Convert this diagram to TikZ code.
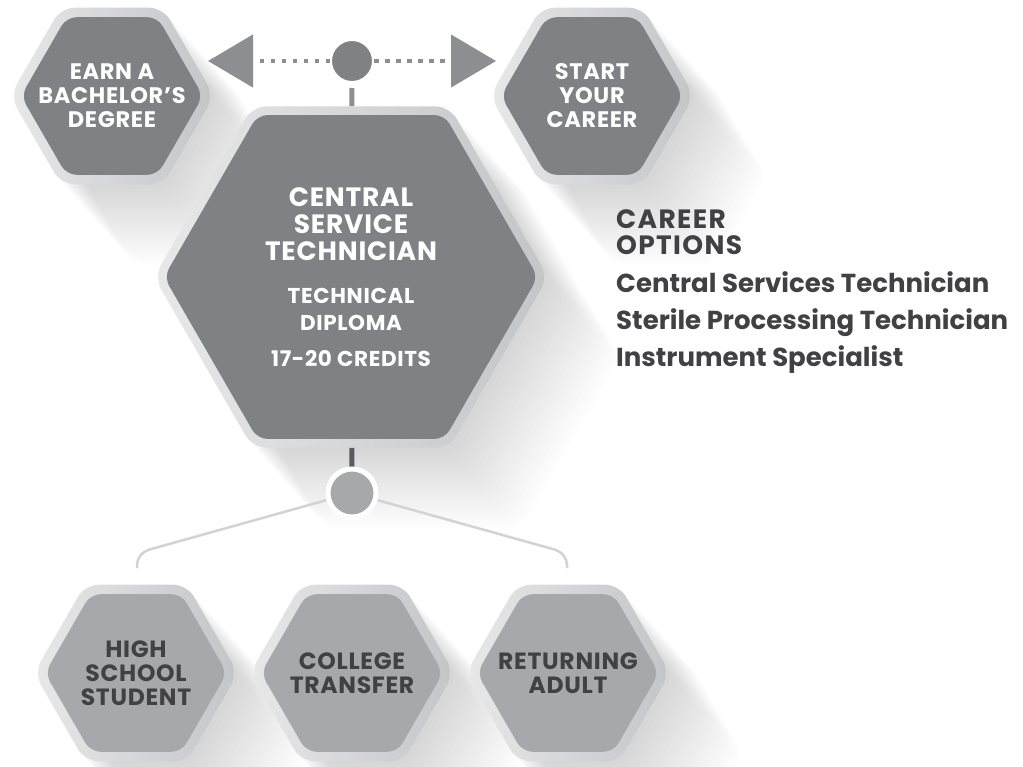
\documentclass[tikz,border=0pt]{standalone}
\usepackage{fontspec}
\setmainfont{Poppins}
\newfontfamily\capfont{Poppins}[LetterSpace=3]
\newfontfamily\headfont{Poppins}[LetterSpace=5]
\usetikzlibrary{shapes.geometric,arrows.meta}

\definecolor{hexdark}{HTML}{808185}
\definecolor{hexlight}{HTML}{A7A8AC}
\definecolor{shellL}{HTML}{E8E8E9}
\definecolor{shellR}{HTML}{C4C5C7}
\definecolor{inkdark}{HTML}{414042}
\definecolor{pointer}{HTML}{8D8E92}
\definecolor{branchline}{HTML}{D2D3D4}
\definecolor{stemdark}{HTML}{5A5B5E}

% soft long shadow behind a hexagon: center x, center y, radius
\newcommand\hexshadow[3]{%
  \foreach \k in {1,...,20}
    \fill[black, opacity=.008, rounded corners=12pt, shift={(#1+3.6*\k,#2+4*\k)}]
      (0:#3) -- (60:#3) -- (120:#3) -- (180:#3) -- (240:#3) -- (300:#3) -- cycle;
}

\tikzset{
  hexshell/.style={regular polygon, regular polygon sides=6, minimum size=#1,
    inner sep=0pt, rounded corners=14pt, left color=shellL, right color=shellR},
  hexcore/.style={regular polygon, regular polygon sides=6, minimum size=#1,
    inner sep=-30pt, rounded corners=10pt, align=center,
    font=\capfont\bfseries\fontsize{22.5}{24}\selectfont},
  darkhex/.style={hexcore=#1, fill=hexdark, text=white},
  lighthex/.style={hexcore=#1, fill=hexlight, text=inkdark,
    font=\capfont\bfseries\fontsize{23.5}{24}\selectfont},
  option/.style={anchor=base west, inner sep=0pt, text=inkdark,
    font=\bfseries\fontsize{26}{28}\selectfont},
  heading/.style={option, font=\headfont\bfseries\fontsize{26.5}{28}\selectfont},
  dotline/.style={pointer, line width=4.5pt, dash pattern=on 4.5pt off 6.5pt,
    -{Triangle[length=45pt,width=52pt]}},
  branch/.style={branchline, line width=2.5pt, rounded corners=12pt},
}

\begin{document}
\begin{tikzpicture}[x=1pt, y=-1pt]
  \useasboundingbox[fill=white] (0,0) rectangle (1023,766);

  % shadows
  \hexshadow{112}{96}{102}
  \hexshadow{592}{96}{102}
  \hexshadow{351}{277}{197}
  \hexshadow{136}{673}{102}
  \hexshadow{352}{673}{102}
  \hexshadow{568}{673}{102}

  % top row
  \node[hexshell=204] (earnShell) at (112,96) {};
  \node[darkhex=182] (earn) at (112,96) {EARN A\\BACHELOR’S\\DEGREE};
  \node[hexshell=204] (startShell) at (592,96) {};
  \node[darkhex=182] (start) at (592,96) {START\\YOUR\\CAREER};

  % program
  \node[hexshell=394] (cstShell) at (351,277) {};
  \node[darkhex=374, font=\capfont\bfseries\fontsize{26.5}{27}\selectfont] (cst) at (351,277)
    {CENTRAL\\SERVICE\\TECHNICIAN\\[16pt]
     {\fontsize{21.5}{27}\selectfont TECHNICAL}\\
     {\fontsize{21.5}{27}\selectfont DIPLOMA}\\[9pt]
     {\fontsize{21.5}{27}\selectfont 17-20 CREDITS}};

  % entry points
  \node[hexshell=204] (hsShell) at (136,673) {};
  \node[lighthex=182] (hs) at (136,673) {HIGH\\SCHOOL\\STUDENT};
  \node[hexshell=204] (ctShell) at (352,673) {};
  \node[lighthex=182] (ct) at (352,673) {COLLEGE\\TRANSFER};
  \node[hexshell=204] (raShell) at (568,673) {};
  \node[lighthex=182] (ra) at (568,673) {RETURNING\\ADULT};

  % junctions
  \node[circle, fill=hexdark, draw=white, line width=2pt, minimum size=42pt,
    inner sep=0pt] (topdot) at (352,61) {};
  \coordinate (earnTip) at (208,61);
  \coordinate (startTip) at (496,61);
  \draw[dotline] (topdot) -- (earnTip);
  \draw[dotline] (topdot) -- (startTip);
  \draw[pointer, line width=5pt, shorten <=5pt] (topdot) -- (cstShell);

  \coordinate (hsBend) at (137,553);
  \coordinate (hsEnd) at (137,568);
  \coordinate (raBend) at (567,553);
  \coordinate (raEnd) at (567,568);
  \draw[branch] (352,493) -- (hsBend) -- (hsEnd);
  \draw[branch] (352,493) -- (raBend) -- (raEnd);
  \draw[stemdark, line width=5pt] (cstShell) -- (352,493);
  \node[circle, fill=hexlight, draw=white, line width=5pt, minimum size=48pt,
    inner sep=0pt] (botdot) at (352,493) {};

  % career options
  \node[heading] (capA) at (616,228) {CAREER};
  \node[heading] (capB) at (616,254) {OPTIONS};
  \node[option] (opt1) at (616,292) {Central Services Technician};
  \node[option] (opt2) at (616,329) {Sterile Processing Technician};
  \node[option] (opt3) at (616,366) {Instrument Specialist};
\end{tikzpicture}
\end{document}
